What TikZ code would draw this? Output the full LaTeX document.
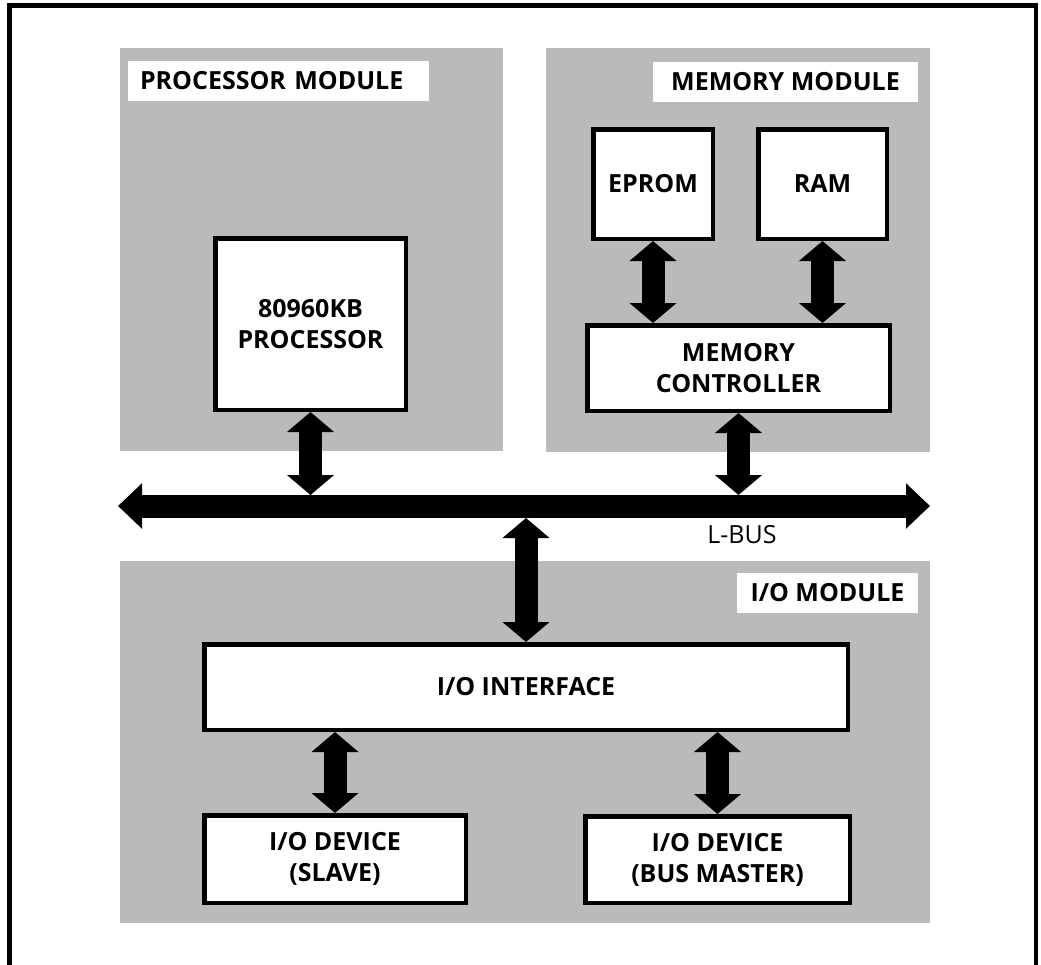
\documentclass[tikz,border=0pt]{standalone}
\usepackage{fontspec}
\setmainfont{Open Sans}
\usetikzlibrary{arrows.meta}

\tikzset{
  module/.style={fill=black!27, draw=none},
  unit/.style={draw=black, line width=4.5pt, fill=white, align=center,
    inner sep=0pt, font=\fontsize{25}{31}\selectfont\bfseries},
  modlabel/.style={fill=white, inner ysep=0pt, minimum height=40pt,
    font=\fontsize{25}{31}\selectfont\bfseries},
  dblarrow/.style={line width=23pt,
    {Triangle[width=46pt,length=20pt]}-{Triangle[width=46pt,length=20pt]}},
  busarrow/.style={line width=23pt,
    {Triangle[width=44pt,length=24pt]}-{Triangle[width=44pt,length=24pt]}},
}

\begin{document}
\begin{tikzpicture}[x=1pt, y=-1pt]
  \useasboundingbox (0,0) rectangle (1041,964);

  % outer frame, open at the bottom
  \draw[line width=4.5pt] (9.5,975) -- (9.5,5.5) -- (1036,5.5) -- (1036,975);

  % shaded module areas
  \fill[module] (120,48) rectangle (503,451);
  \fill[module] (546,48) rectangle (930,452);
  \fill[module] (120,561) rectangle (930,923);

  % module titles
  \node[modlabel, text width=277pt, inner xsep=12pt, align=left]
    (proclbl) at (278.5,81) {PROCESSOR MODULE};
  \node[modlabel, minimum width=265pt, inner xsep=0pt]
    (memlbl) at (785.5,81.5) {MEMORY MODULE};
  \node[modlabel, minimum width=181pt, inner xsep=0pt]
    (iolbl) at (827.5,592.5) {I/O MODULE};

  % functional units
  \node[unit, minimum width=190.5pt, minimum height=171.5pt]
    (proc) at (310.5,324) {80960KB\\PROCESSOR};
  \node[unit, minimum width=119.5pt, minimum height=109.5pt]
    (eprom) at (653,184) {EPROM};
  \node[unit, minimum width=128.5pt, minimum height=109.5pt]
    (ram) at (822.5,184) {RAM};
  \node[unit, minimum width=302.5pt, minimum height=85.5pt]
    (memctl) at (738.5,368) {MEMORY\\CONTROLLER};
  \node[unit, minimum width=643.5pt, minimum height=85.5pt]
    (ioif) at (526,687) {I/O INTERFACE};
  \node[unit, minimum width=261.5pt, minimum height=87.5pt]
    (slave) at (335,859) {I/O DEVICE\\(SLAVE)};
  \node[unit, minimum width=264.5pt, minimum height=86.5pt]
    (master) at (717.5,859.5) {I/O DEVICE\\(BUS MASTER)};

  % local bus
  \coordinate (busL) at (118,506);
  \coordinate (busR) at (930,506);
  \coordinate (bustop) at (0,495);
  \coordinate (busbot) at (0,518);
  \draw[busarrow] (busL) -- (busR);
  \node[font=\fontsize{25}{31}\selectfont] (buslbl) at (742,535) {L-BUS};

  % bidirectional paths
  \draw[dblarrow] (proc.south) -- (proc.south |- bustop);
  \draw[dblarrow] (memctl.south) -- (memctl.south |- bustop);
  \draw[dblarrow] (eprom.south) -- (eprom.south |- memctl.north);
  \draw[dblarrow] (ram.south) -- (ram.south |- memctl.north);
  \draw[dblarrow] (ioif.north |- busbot) -- (ioif.north);
  \draw[dblarrow] (slave.north |- ioif.south) -- (slave.north);
  \draw[dblarrow] (master.north |- ioif.south) -- (master.north);
\end{tikzpicture}
\end{document}
